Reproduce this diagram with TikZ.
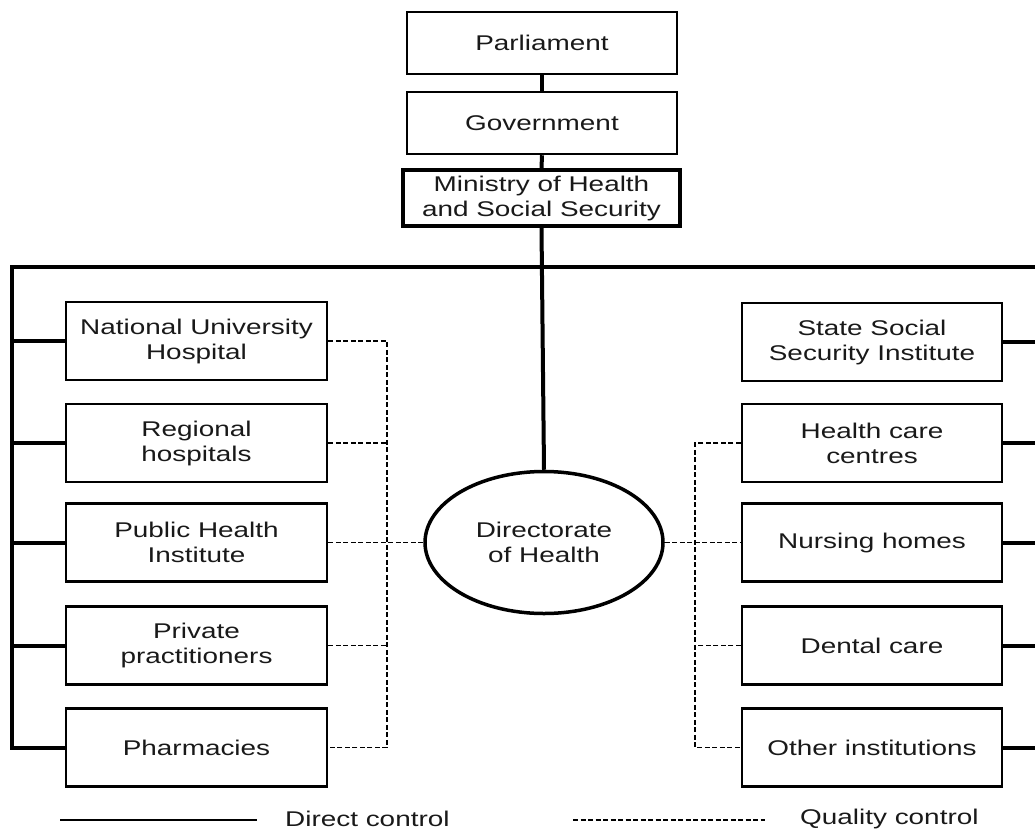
\documentclass[tikz,border=0pt]{standalone}
\usepackage{fontspec}
\setmainfont{Liberation Sans}[FakeStretch=1.31]
\usetikzlibrary{shapes.geometric}

\begin{document}
\begin{tikzpicture}[x=1pt,y=-1pt,
  every node/.style={font=\fontsize{21.3}{25}\selectfont, text=black!90, align=center, inner sep=0pt},
  orgbox/.style={draw, line width=2.5pt, minimum width=261pt, minimum height=78pt},
  topbox/.style={draw, line width=2.5pt, minimum width=270pt, minimum height=62pt},
  dc/.style={line width=4pt, line join=miter},
  qc/.style={line width=1.8pt, dash pattern=on 5pt off 2.5pt},
  legendline/.style={line width=1.4pt}]

\useasboundingbox (0,0) rectangle (1035,832);

% top of the hierarchy
\node[topbox] (par) at (542,43) {Parliament};
\node[topbox] (gov) at (542,123) {Government};
\node[draw, line width=4pt, minimum width=277pt, minimum height=56pt] (min) at (541.5,198)
  {Ministry of Health\\and Social Security};

% directorate
\node[draw, ellipse, line width=3.5pt, minimum width=238pt, minimum height=142pt] (dir) at (544,542.5)
  {Directorate\\of Health};

% left column
\node[orgbox] (nuh) at (196.5,341) {National University\\Hospital};
\node[orgbox] (reg) at (196.5,443) {Regional\\hospitals};
\node[orgbox] (phi) at (196.5,542.5) {Public Health\\Institute};
\node[orgbox] (pri) at (196.5,645.5) {Private\\practitioners};
\node[orgbox] (pha) at (196.5,747.5) {Pharmacies};

% right column
\node[orgbox, minimum width=260pt] (sss) at (872,342) {State Social\\Security Institute};
\node[orgbox, minimum width=260pt] (hcc) at (872,443) {Health care\\centres};
\node[orgbox, minimum width=260pt] (nur) at (872,542.5) {Nursing homes};
\node[orgbox, minimum width=260pt] (den) at (872,645.5) {Dental care};
\node[orgbox, minimum width=260pt] (oth) at (872,747.5) {Other institutions};

% trunk coordinates
\coordinate (ld) at (12,267);
\coordinate (rd) at (1037,267);
\coordinate (lq) at (387,0);
\coordinate (rq) at (695,0);

% direct control
\draw[dc] (par.south) -- (gov.north);
\draw[dc] (gov.south) -- (min.north);
\draw[dc] (min.south) -- (dir.north);
\draw[dc] (rd) -- (ld) |- (pha.west);
\foreach \n in {nuh,reg,phi,pri}
  \draw[dc] (\n.west) -- (\n.west -| ld);
\draw[dc] (rd) |- (oth.east);
\foreach \n in {sss,hcc,nur,den}
  \draw[dc] (\n.east) -- (\n.east -| rd);

% quality control
\draw[qc] (nuh.east) -- (nuh.east -| lq) -- (pha.east -| lq) -- (pha.east);
\foreach \n in {reg,pri}
  \draw[qc] (\n.east) -- (\n.east -| lq);
\draw[qc] (phi.east) -- (dir.west);
\draw[qc] (hcc.west) -- (hcc.west -| rq) -- (oth.west -| rq) -- (oth.west);
\draw[qc] (den.west) -- (den.west -| rq);
\draw[qc] (dir.east) -- (nur.west);

% legend
\coordinate (l1a) at (60,820);
\coordinate (l1b) at (257,820);
\coordinate (l2a) at (573,820);
\coordinate (l2b) at (765,820);
\draw[legendline] (l1a) -- (l1b);
\node[anchor=west] (lgd) at (285,819) {Direct control};
\draw[qc, line width=1.4pt] (l2a) -- (l2b);
\node[anchor=west] (lgq) at (800,819) {Quality control};

\end{tikzpicture}
\end{document}
